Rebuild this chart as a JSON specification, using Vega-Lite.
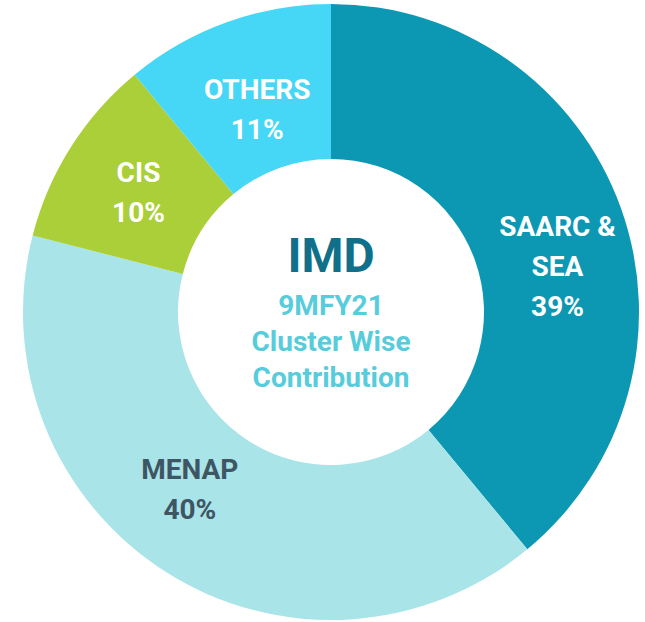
{
  "$schema": "https://vega.github.io/schema/vega-lite/v6.json",
  "autosize": {"type": "fit", "contains": "padding"},
  "width": 645,
  "height": 622,
  "padding": {"left": 17, "top": 2, "right": 0, "bottom": 0},
  "background": "white",
  "config": {"view": {"stroke": null}},
  "datasets": {
    "clusters": [
      {"cluster": "SAARC & SEA", "share": 39, "rank": 1, "label": "SAARC &\nSEA\n39%"},
      {"cluster": "MENAP", "share": 40, "rank": 2, "label": "MENAP\n40%"},
      {"cluster": "CIS", "share": 10, "rank": 3, "label": "CIS\n10%"},
      {"cluster": "OTHERS", "share": 11, "rank": 4, "label": "OTHERS\n11%"}
    ],
    "center": [
      {"title": "IMD", "sub": "9MFY21\nCluster Wise\nContribution"}
    ]
  },
  "layer": [
    {
      "data": {"name": "clusters"},
      "mark": {"type": "arc", "outerRadius": 308, "innerRadius": 153},
      "encoding": {
        "theta": {"field": "share", "type": "quantitative", "stack": true},
        "order": {"field": "rank", "type": "quantitative"},
        "color": {
          "field": "cluster", "type": "nominal", "legend": null,
          "scale": {"domain": ["SAARC & SEA", "MENAP", "CIS", "OTHERS"], "range": ["#0C97B3", "#A9E4E8", "#AACF39", "#45D7F5"]}
        }
      }
    },
    {
      "data": {"name": "clusters"},
      "mark": {"type": "text", "radius": 228, "dx": 12, "dy": -7, "font": "Roboto", "fontWeight": "bold", "fontSize": 28, "lineBreak": "\n", "lineHeight": 40, "baseline": "middle", "align": "center", "color": "white"},
      "encoding": {
        "theta": {"field": "share", "type": "quantitative", "stack": true},
        "order": {"field": "rank", "type": "quantitative"},
        "text": {"condition": {"test": "datum.cluster === 'SAARC & SEA'", "field": "label"}, "value": ""}
      }
    },
    {
      "data": {"name": "clusters"},
      "mark": {"type": "text", "radius": 228, "dx": -19, "dy": -34, "font": "Roboto", "fontWeight": "bold", "fontSize": 28, "lineBreak": "\n", "lineHeight": 40, "baseline": "middle", "align": "center", "color": "#3E5663"},
      "encoding": {
        "theta": {"field": "share", "type": "quantitative", "stack": true},
        "order": {"field": "rank", "type": "quantitative"},
        "text": {"condition": {"test": "datum.cluster === 'MENAP'", "field": "label"}, "value": ""}
      }
    },
    {
      "data": {"name": "clusters"},
      "mark": {"type": "text", "radius": 228, "dx": 0, "dy": -16, "font": "Roboto", "fontWeight": "bold", "fontSize": 28, "lineBreak": "\n", "lineHeight": 40, "baseline": "middle", "align": "center", "color": "white"},
      "encoding": {
        "theta": {"field": "share", "type": "quantitative", "stack": true},
        "order": {"field": "rank", "type": "quantitative"},
        "text": {"condition": {"test": "datum.cluster === 'CIS'", "field": "label"}, "value": ""}
      }
    },
    {
      "data": {"name": "clusters"},
      "mark": {"type": "text", "radius": 218, "dx": 0, "dy": -16, "font": "Roboto", "fontWeight": "bold", "fontSize": 28, "lineBreak": "\n", "lineHeight": 40, "baseline": "middle", "align": "center", "color": "white"},
      "encoding": {
        "theta": {"field": "share", "type": "quantitative", "stack": true},
        "order": {"field": "rank", "type": "quantitative"},
        "text": {"condition": {"test": "datum.cluster === 'OTHERS'", "field": "label"}, "value": ""}
      }
    },
    {
      "data": {"name": "center"},
      "mark": {"type": "text", "dy": -54, "font": "Roboto", "fontWeight": "bold", "fontSize": 48, "baseline": "middle", "align": "center", "color": "#10708A"},
      "encoding": {"text": {"field": "title"}}
    },
    {
      "data": {"name": "center"},
      "mark": {"type": "text", "dy": -5, "font": "Roboto", "fontWeight": "bold", "fontSize": 28, "lineBreak": "\n", "lineHeight": 36, "baseline": "middle", "align": "center", "color": "#57CCDB"},
      "encoding": {"text": {"field": "sub"}}
    }
  ]
}
